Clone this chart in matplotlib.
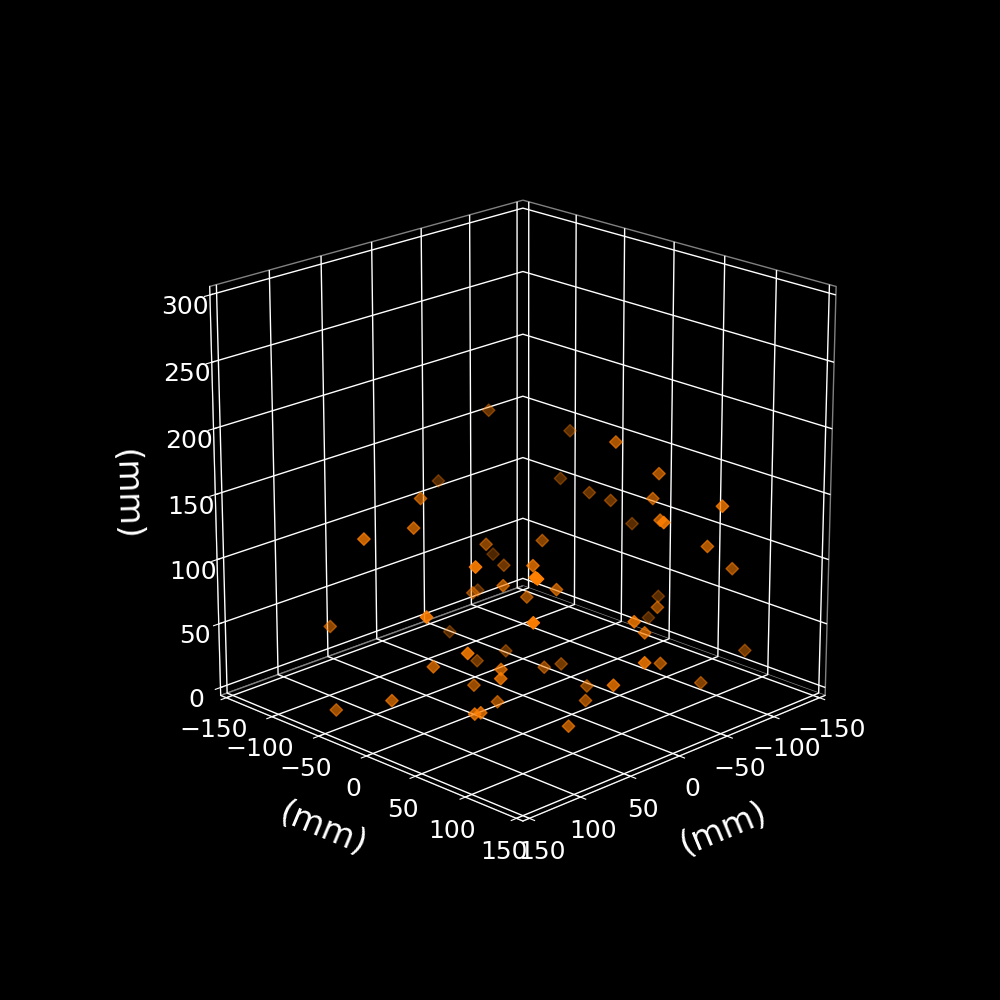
import matplotlib
matplotlib.use('Agg')
import matplotlib.pyplot as plt

# target positions (mm)
x = [-69, -54, 52, 79, 130, -5, -83, -41, 122, 46, 120, 119, 34, 2, -51, -2, 146, -124, -47, -69, -119,
     -110, -109, -66, -51, -145, -45, 6, -34, -69, -107, 7, -147, -69, -145, 20, 121, -10, -146, 99, -33,
     126, -9, -36, 96, 62, 86, 49, 117, 37, 128, 99, 96, -11, -47, 27, -46, -30, 30, -95, -8, 31]
y = [-105, -144, -52, -31, -28, -43, -115, -61, 76, 56, 132, 133, 14, -50, -99, 2, 52, -74, 47, 69, -79,
     -40, -17, 66, 147, -29, 93, 144, -14, 117, 107, 41, -3, 69, -11, 130, 131, 112, 86, -99, -111,
     72, -57, -54, 6, 40, 64, -1, -15, 11, -62, 51, 54, 11, -7, 147, 94, 36, 120, 89, 56, 77]
z = [172, 110, 147, 137, 143, 99, 51, 68, 148, 123, 155, 154, 93, 61, 35, 71, 111, 150, 190, 166, 112,
     113, 113, 147, 166, 82, 143, 168, 102, 123, 93, 90, 30, 63, 11, 94, 122, 72, 12, 48, 3,
     84, 2, 3, 46, 44, 51, 16, 20, 3, 2, 24, 25, 16, 3, 70, 33, 3, 46, 2, 4, 2]

AXIS_LABEL = '(mm)'

plt.style.use('dark_background')
plt.rcParams['axes3d.automargin'] = True

fig = plt.figure(figsize=(10, 10), dpi=100)
ax = fig.add_subplot(projection='3d')
ax.view_init(elev=20, azim=45)
ax.scatter(x, y, z, marker='D', s=40, color='#ff7f00')

ax.set_xlim(-150, 150)
ax.set_ylim(-150, 150)
ax.set_zlim(0, 300)
ax.set_box_aspect((1, 1, 1), zoom=0.95)

ax.set_xlabel(AXIS_LABEL, fontsize=24, labelpad=18.5)
ax.set_ylabel(AXIS_LABEL, fontsize=24, labelpad=18.5)
ax.set_zlabel(AXIS_LABEL, fontsize=24, labelpad=21)
ax.tick_params(labelsize=18)

for axis in (ax.xaxis, ax.yaxis, ax.zaxis):
    axis.set_rotate_label(True)
    axis.set_pane_color((0, 0, 0, 1))
    axis.pane.set_edgecolor('gray')
    axis._axinfo['grid']['linewidth'] = 1.0

fig.savefig('out.png', dpi=100)
